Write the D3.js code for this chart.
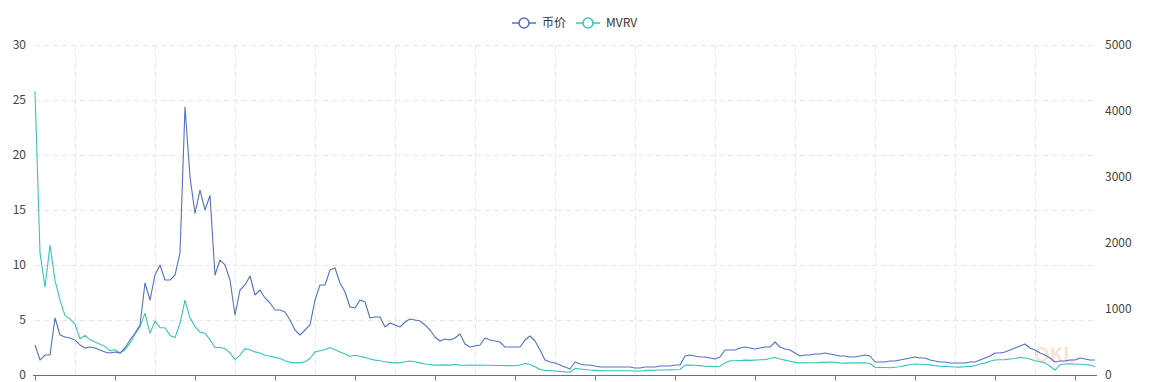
<!DOCTYPE html>
<html>
<head>
<meta charset="utf-8">
<script src="https://cdn.jsdelivr.net/npm/d3@7"></script>
<style>
  html, body { margin: 0; padding: 0; background: #fff; }
  svg { display: block; font-family: "Microsoft YaHei", "Noto Sans CJK SC", "Noto Sans", sans-serif; }
</style>
</head>
<body>
<svg id="chart" width="1151" height="382"></svg>
<script>
// ---- data (sampled evenly along the time axis) ----
const seriesNames = ["币价", "MVRV"];
const leftTicks = [0, 5, 10, 15, 20, 25, 30];
const rightTicks = [0, 1000, 2000, 3000, 4000, 5000];

const price = [
  455, 227, 303, 303, 864, 606, 576, 561, 530, 455,
  409, 424, 409, 379, 348, 333, 348, 333, 409, 530,
  636, 758, 1394, 1136, 1515, 1667, 1439, 1439, 1515, 1848,
  4061, 3000, 2450, 2800, 2500, 2720, 1515, 1742, 1667, 1439,
  909, 1288, 1364, 1500, 1212, 1288, 1167, 1091, 985, 985,
  955, 833, 682, 606, 682, 758, 1136, 1364, 1364, 1591,
  1621, 1394, 1258, 1030, 1015, 1136, 1106, 864, 879, 879,
  727, 788, 758, 727, 803, 848, 833, 818, 758, 682,
  576, 515, 545, 530, 561, 621, 470, 424, 439, 455,
  561, 530, 515, 500, 424, 424, 424, 424, 530, 591,
  515, 379, 227, 197, 182, 152, 121, 91, 197, 167,
  152, 152, 136, 121, 121, 121, 121, 121, 121, 121,
  106, 106, 121, 121, 121, 136, 136, 136, 152, 152,
  288, 303, 288, 273, 273, 258, 242, 273, 379, 379,
  379, 409, 424, 409, 394, 409, 424, 424, 500, 424,
  394, 379, 333, 288, 303, 303, 318, 318, 333, 318,
  303, 288, 288, 273, 273, 288, 303, 288, 197, 197,
  197, 212, 212, 227, 242, 258, 273, 258, 258, 227,
  212, 197, 197, 182, 182, 182, 182, 197, 197, 227,
  258, 288, 333, 333, 348, 379, 409, 439, 470, 409,
  379, 333, 303, 258, 197, 212, 212, 227, 227, 258,
  242, 227, 227
];

const mvrv = [
  25.8, 11.1, 8.0, 11.8, 8.6, 6.8, 5.4, 5.1, 4.6, 3.3,
  3.6, 3.2, 3.0, 2.8, 2.6, 2.2, 2.3, 2.0, 2.3, 2.9,
  3.7, 4.4, 5.6, 3.8, 4.9, 4.3, 4.3, 3.6, 3.4, 4.7,
  6.8, 5.2, 4.4, 3.9, 3.8, 3.2, 2.5, 2.5, 2.4, 2.0,
  1.4, 1.8, 2.4, 2.3, 2.1, 2.0, 1.8, 1.7, 1.6, 1.5,
  1.3, 1.15, 1.1, 1.1, 1.2, 1.5, 2.1, 2.2, 2.3, 2.5,
  2.3, 2.1, 1.9, 1.7, 1.8, 1.7, 1.6, 1.45, 1.35, 1.3,
  1.2, 1.15, 1.1, 1.1, 1.2, 1.27, 1.2, 1.1, 1.0, 0.95,
  0.9, 0.9, 0.92, 0.9, 0.95, 0.9, 0.88, 0.9, 0.88, 0.9,
  0.88, 0.88, 0.87, 0.86, 0.85, 0.85, 0.84, 0.9, 1.05, 0.95,
  0.75, 0.5, 0.42, 0.4, 0.36, 0.33, 0.28, 0.25, 0.6, 0.55,
  0.5, 0.45, 0.42, 0.4, 0.38, 0.38, 0.38, 0.38, 0.38, 0.38,
  0.36, 0.37, 0.4, 0.42, 0.43, 0.45, 0.46, 0.47, 0.48, 0.5,
  0.9, 0.9, 0.88, 0.85, 0.8, 0.78, 0.76, 0.8, 1.1, 1.3,
  1.3, 1.32, 1.35, 1.33, 1.35, 1.38, 1.4, 1.5, 1.6, 1.45,
  1.35, 1.25, 1.15, 1.1, 1.1, 1.12, 1.12, 1.15, 1.15, 1.18,
  1.15, 1.1, 1.08, 1.1, 1.12, 1.1, 1.12, 1.05, 0.7, 0.68,
  0.68, 0.66, 0.7, 0.75, 0.85, 0.95, 1.0, 0.98, 0.95, 0.92,
  0.85, 0.8, 0.78, 0.75, 0.73, 0.72, 0.75, 0.78, 0.85, 1.0,
  1.08, 1.25, 1.36, 1.38, 1.4, 1.45, 1.5, 1.6, 1.55, 1.45,
  1.3, 1.2, 1.1, 0.8, 0.45, 0.95, 1.0, 1.02, 1.0, 0.98,
  0.95, 0.9, 0.75
];

// ---- layout ----
const W = 1151, H = 382;
const m = { left: 35, right: 56, top: 45, bottom: 7 };
const colors = { price: "#5470c6", mvrv: "#37c4bc" };

const svg = d3.select("#chart");
const n = price.length;

const x = d3.scaleLinear().domain([0, n - 1]).range([m.left, W - m.right]);
const yL = d3.scaleLinear().domain([0, 30]).range([H - m.bottom, m.top]);
const yR = d3.scaleLinear().domain([0, 5000]).range([H - m.bottom, m.top]);

// vertical split lines (between category label positions)
const step = 16;
const vGrid = d3.range(8, n - 1, step);
svg.append("g").selectAll("line").data(vGrid).join("line")
  .attr("x1", d => x(d) + 0.5).attr("x2", d => x(d) + 0.5)
  .attr("y1", yL(30)).attr("y2", yL(0))
  .attr("stroke", "#e6e6e6").attr("stroke-dasharray", "5,4").attr("stroke-width", 1);

// horizontal split lines
svg.append("g").selectAll("line").data(leftTicks.filter(d => d > 0)).join("line")
  .attr("x1", x(0)).attr("x2", x(n - 1))
  .attr("y1", d => Math.round(yL(d)) + 0.5).attr("y2", d => Math.round(yL(d)) + 0.5)
  .attr("stroke", "#e6e6e6").attr("stroke-dasharray", "5,4").attr("stroke-width", 1);

// left axis labels
const leftAxis = d3.axisLeft(yL).tickValues(leftTicks).tickSize(0).tickPadding(9);
const gl = svg.append("g").attr("transform", `translate(${m.left},0)`).call(leftAxis);
gl.select(".domain").remove();
gl.selectAll("text").attr("fill", "#444").style("font-size", "12px")
  .style("font-family", "\"Microsoft YaHei\", \"Noto Sans CJK SC\", sans-serif");

// right axis labels
const rightAxis = d3.axisRight(yR).tickValues(rightTicks).tickSize(0).tickPadding(10).tickFormat(d3.format("d"));
const gr = svg.append("g").attr("transform", `translate(${W - m.right},0)`).call(rightAxis);
gr.select(".domain").remove();
gr.selectAll("text").attr("fill", "#444").style("font-size", "12px")
  .style("font-family", "\"Microsoft YaHei\", \"Noto Sans CJK SC\", sans-serif");

// bottom axis
const bottomAxis = d3.axisBottom(x).tickValues(d3.range(0, n, step)).tickSize(5).tickFormat("");
const gb = svg.append("g").attr("transform", `translate(0,${Math.round(yL(0)) + 0.5})`).call(bottomAxis);
gb.select(".domain").attr("stroke", "#6e7079").attr("d", `M${m.left - 2},0H${W - m.right + 2}`);
gb.selectAll(".tick line").attr("stroke", "#6e7079");

// watermark
svg.append("text").attr("x", 1034).attr("y", 362).text("OKL")
  .attr("fill", "#f2b48a").attr("opacity", 0.35).style("font-size", "20px").style("font-weight", "bold");

// lines
const linePrice = d3.line().x((d, i) => x(i)).y(d => yR(d));
const lineMvrv = d3.line().x((d, i) => x(i)).y(d => yL(d));

svg.append("path").datum(mvrv).attr("d", lineMvrv)
  .attr("fill", "none").attr("stroke", colors.mvrv).attr("stroke-width", 1.1).attr("stroke-linejoin", "round");
svg.append("path").datum(price).attr("d", linePrice)
  .attr("fill", "none").attr("stroke", colors.price).attr("stroke-width", 1.1).attr("stroke-linejoin", "round");

// legend
const legendItems = [
  { name: seriesNames[0], color: colors.price, x: 512 },
  { name: seriesNames[1], color: colors.mvrv, x: 576 }
];
const lg = svg.append("g");
legendItems.forEach(it => {
  const g = lg.append("g").attr("transform", `translate(${it.x},23)`);
  g.append("line").attr("x1", 0).attr("x2", 24).attr("y1", 0).attr("y2", 0)
    .attr("stroke", it.color).attr("stroke-width", 1.5);
  g.append("circle").attr("cx", 12).attr("cy", 0).attr("r", 5)
    .attr("fill", "#fff").attr("stroke", it.color).attr("stroke-width", 1.5);
  g.append("text").attr("x", 30).attr("y", 0).attr("dy", "0.35em").text(it.name)
    .attr("fill", "#333").style("font-size", "12px");
});
</script>
</body>
</html>
